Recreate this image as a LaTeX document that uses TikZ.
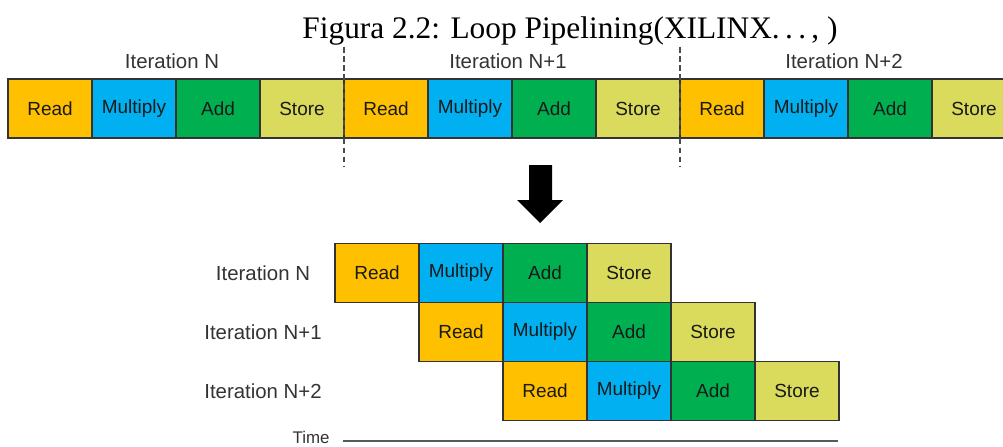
\documentclass[tikz,border=0pt]{standalone}
\usepackage{fontspec}
\usepackage{xcolor}
\usepackage{tikz}
\usetikzlibrary{positioning,calc,arrows.meta}

\newfontfamily\diagfont{Liberation Sans}
\newfontfamily\capfont{Liberation Serif}

\definecolor{readcol}{HTML}{FFC000}
\definecolor{multcol}{HTML}{00B0F0}
\definecolor{addcol}{HTML}{00B050}
\definecolor{storecol}{HTML}{DADA5C}

\begin{document}
\begin{tikzpicture}[x=0.025cm, y=-0.025cm, node distance=0pt,
    stage/.style={draw=black!80, line width=0.9pt, minimum width=2.1cm, minimum height=1.475cm,
        inner sep=0pt, outer sep=0pt, text=black!90, font=\diagfont\fontsize{13.5}{15}\selectfont},
    read/.style={stage, fill=readcol},
    mult/.style={stage, fill=multcol},
    add/.style={stage, fill=addcol},
    store/.style={stage, fill=storecol},
    iterlabel/.style={text=black!80, font=\diagfont\fontsize{14.5}{16}\selectfont},
    sep/.style={draw=black!70, line width=1.1pt, dash pattern=on 4pt off 2.5pt}]
    \useasboundingbox (0,0) rectangle (1003,446);
    \clip (0,0) rectangle (1003,446);

    \node[anchor=base, font=\capfont\fontsize{22.3}{24}\selectfont] (caption) at (570,39)
        {Figura 2.2: Loop Pipelining(XILINX.\kern.17em.\kern.17em.\kern.17em, )};

    % sequential execution, one iteration after the other
    \foreach \k/\n in {0/N, 1/N+1, 2/N+2} {
        \foreach \s/\t [count=\j] in {read/Read, mult/Multiply, add/Add, store/Store} {
            \node[\s] (top-\k-\j) at ({50+84*(4*\k+\j-1)}, 108.5) {\t};
        }
        \node[iterlabel] (head-\k) at ({172+336*\k}, 61) {Iteration \n};
    }

    % iteration boundaries
    \foreach \k in {1,2} {
        \draw[sep] ($(top-\k-1.north west)+(0,-32)$) -- ($(top-\k-1.south west)+(0,28)$);
    }

    % down arrow
    \fill[black] (529,165) -- (552,165) -- (552,200) -- (563,200) -- (540,223)
        -- (517,200) -- (529,200) -- cycle;

    % pipelined execution
    \foreach \k/\n in {0/N, 1/N+1, 2/N+2} {
        \foreach \s/\t [count=\j] in {read/Read, mult/Multiply, add/Add, store/Store} {
            \node[\s] (row-\k-\j) at ({377+84*(\k+\j-1)}, {273+59*\k}) {\t};
        }
        \node[iterlabel] (lab-\k) at (263, {273+59*\k}) {Iteration \n};
    }

    % time axis
    \node[anchor=base, inner ysep=1pt, text=black!80, font=\diagfont\fontsize{12}{14}\selectfont] (time) at (311,443.5) {Time};
    \coordinate (t0) at (343,441);
    \coordinate (t1) at (838,441);
    \draw[black!65, line width=1.4pt] (t0) -- (t1);
\end{tikzpicture}
\end{document}
